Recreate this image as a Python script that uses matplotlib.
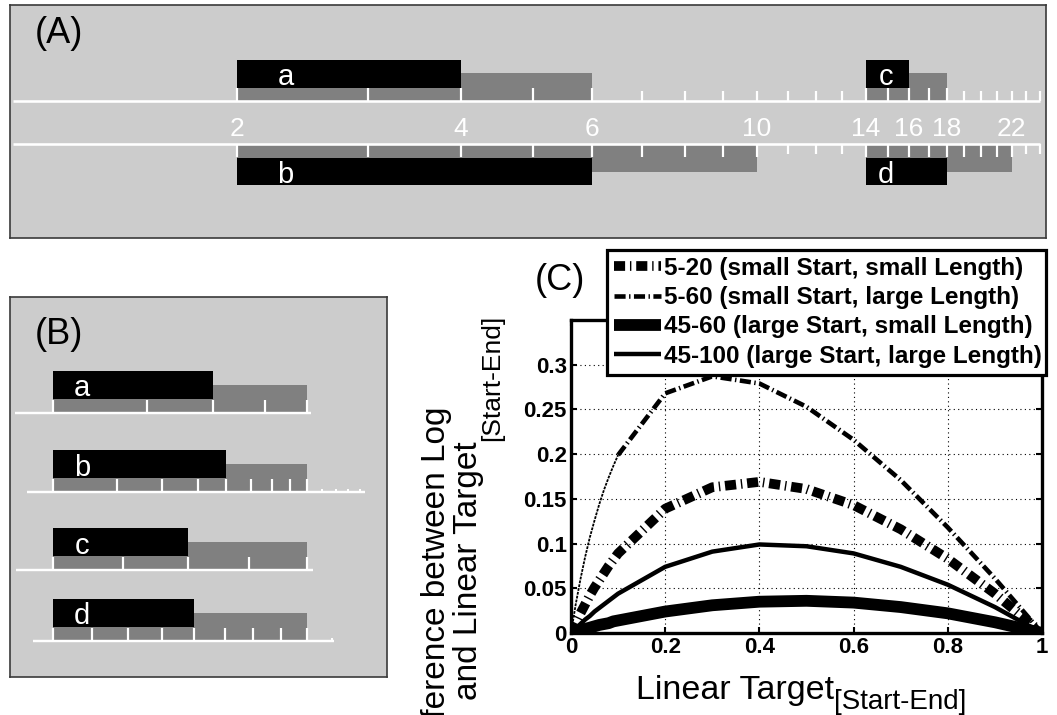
import numpy as np
import matplotlib
matplotlib.use('Agg')
import matplotlib.pyplot as plt
import matplotlib.transforms as mtransforms
from matplotlib.lines import Line2D
from matplotlib.ticker import NullLocator

plt.rcParams['font.family'] = ['Liberation Sans', 'DejaVu Sans']
plt.rcParams['lines.scale_dashes'] = False

# ---------------------------------------------------------------- data
bar_names = ['a', 'b', 'c', 'd']
range_start = [2, 2, 14, 14]
range_target = [4, 6, 16, 18]
range_end = [6, 10, 18, 22]
scale_min, scale_max = 1, 24
scale_labels = [2, 4, 6, 10, 14, 16, 18, 22]

# extent of the individual scale line of each row in panel B
row_line_lo = [1.7, 1.7, 13.5, 13.5]
row_line_hi = [6.1, 14.4, 18.1, 23.1]

# panel C: difference between log and linear target positions
lin_target = [0, 0.01, 0.02, 0.03, 0.04, 0.05, 0.06, 0.07, 0.08, 0.09,
              0.1, 0.2, 0.3, 0.4, 0.5, 0.6, 0.7, 0.8, 0.9, 1.0]
diff_5_20 = [0, 0.011, 0.022, 0.032, 0.042, 0.051, 0.059, 0.067, 0.075, 0.082,
             0.089, 0.139, 0.163, 0.169, 0.161, 0.143, 0.116, 0.083, 0.044, 0]
diff_5_60 = [0, 0.032, 0.060, 0.085, 0.107, 0.126, 0.144, 0.160, 0.174, 0.187,
             0.199, 0.268, 0.287, 0.279, 0.253, 0.216, 0.171, 0.118, 0.061, 0]
diff_45_60 = [0, 0.0015, 0.003, 0.0045, 0.006, 0.0075, 0.009, 0.010, 0.011, 0.013,
              0.014, 0.024, 0.031, 0.035, 0.036, 0.034, 0.029, 0.022, 0.012, 0]
diff_45_100 = [0, 0.005, 0.010, 0.015, 0.019, 0.024, 0.028, 0.032, 0.036, 0.040,
               0.044, 0.074, 0.091, 0.099, 0.097, 0.089, 0.074, 0.054, 0.029, 0]
series_labels = ['5-20 (small Start, small Length)',
                 '5-60 (small Start, large Length)',
                 '45-60 (large Start, small Length)',
                 '45-100 (large Start, large Length)']
x_ticks = [0, 0.2, 0.4, 0.6, 0.8, 1.0]
x_tick_labels = ['0', '0.2', '0.4', '0.6', '0.8', '1']
y_ticks = [0, 0.05, 0.1, 0.15, 0.2, 0.25, 0.3]
y_tick_labels = ['0', '0.05', '0.1', '0.15', '0.2', '0.25', '0.3']

# ---------------------------------------------------------------- layout
W, H, DPI = 1057, 715, 100
PANEL_BG = '#cccccc'
GRAY = '#808080'
EDGE = '#3a3a3a'

fig = plt.figure(figsize=(W / DPI, H / DPI), dpi=DPI)
fig.patch.set_facecolor('white')


def rect(l, t, r, b):
    """figure rectangle from pixel edges (top-left origin)"""
    return [l / W, 1 - b / H, (r - l) / W, (b - t) / H]


def px(v):
    """pixels -> points"""
    return v * 72 / DPI


def blank(ax):
    ax.xaxis.set_major_locator(NullLocator())
    ax.xaxis.set_minor_locator(NullLocator())
    ax.yaxis.set_major_locator(NullLocator())
    ax.yaxis.set_minor_locator(NullLocator())


# ================================================================ panel A
A_L, A_T, A_R, A_B = 10, 5, 1046, 238
X_MIN_PX, X_MAX_PX = 12.5, 1040
ax_a = fig.add_axes(rect(A_L, A_T, A_R, A_B))
ax_a.set_facecolor(PANEL_BG)
ax_a.set_xscale('log')
k = np.log(scale_max / scale_min) / (X_MAX_PX - X_MIN_PX)
ax_a.set_xlim(scale_min * np.exp(-(X_MIN_PX - A_L) * k),
              scale_max * np.exp((A_R - X_MAX_PX) * k))
ax_a.set_ylim(A_B, A_T)
blank(ax_a)
for s in ax_a.spines.values():
    s.set_color(EDGE)
    s.set_linewidth(1.2)

# rows a, c above the upper scale line; b, d below the lower one
side_base = [101, 144, 101, 144]
side_dir = [-1, 1, -1, 1]
letter_dx = [49, 49, 20, 20]
for i in range(4):
    base, d = side_base[i], side_dir[i]
    s, t, e = range_start[i], range_target[i], range_end[i]
    ax_a.fill_between([s, e], base, base + d * 28, color=GRAY, lw=0, zorder=1)
    ax_a.fill_between([s, t], base + d * 13.5, base + d * 41, color='black',
                      lw=0, zorder=2)
    tr = mtransforms.offset_copy(ax_a.transData, fig=fig, x=letter_dx[i], y=0,
                                 units='dots')
    y_txt = base - 16 if d < 0 else base + 39
    ax_a.text(s, y_txt, bar_names[i], transform=tr, color='white',
              fontsize=21, ha='center', va='baseline', zorder=4)

ticks = np.arange(2, scale_max + 1)
for base, d, members in [(101, -1, [0, 2]), (144, 1, [1, 3])]:
    ax_a.hlines(base, scale_min, scale_max, color='white', lw=px(2.6), zorder=3)
    for tk in ticks:
        inside = any(range_start[m] <= tk <= range_end[m] for m in members)
        ln = 13 if inside else 10
        ax_a.vlines(tk, base, base + d * ln, color='white', lw=px(2.2), zorder=3)

for v in scale_labels:
    ax_a.text(v, 136, str(v), color='white', fontsize=19, ha='center',
              va='baseline')

fig.text(35 / W, 1 - 43 / H, '(A)', fontsize=26, ha='left', va='baseline')

# ================================================================ panel B
B_L, B_T, B_R, B_B = 10, 297, 387, 677
GX0, GX1 = 53, 307
ax_b = fig.add_axes(rect(B_L, B_T, B_R, B_B))
ax_b.set_facecolor(PANEL_BG)
blank(ax_b)
for s in ax_b.spines.values():
    s.set_color(EDGE)
    s.set_linewidth(1.2)

row_base = [413, 492, 570, 641]
for i in range(4):
    s, t, e = range_start[i], range_target[i], range_end[i]
    ax = fig.add_axes(rect(B_L, B_T, B_R, B_B))
    ax.patch.set_visible(False)
    ax.set_axis_off()
    ax.set_xscale('log')
    kk = np.log(e / s) / (GX1 - GX0)
    ax.set_xlim(s * np.exp(-(GX0 - B_L) * kk), e * np.exp((B_R - GX1) * kk))
    ax.set_ylim(B_B, B_T)
    base = row_base[i]
    ax.fill_between([s, e], base, base - 28, color=GRAY, lw=0, zorder=1)
    ax.fill_between([s, t], base - 14, base - 42, color='black', lw=0, zorder=2)
    ax.hlines(base, row_line_lo[i], row_line_hi[i], color='white',
              lw=px(2.4), zorder=3)
    full = np.arange(s, e + 1)
    ax.vlines(full, base, base - 13.5, color='white', lw=px(2.2), zorder=3)
    extra = np.arange(e + 1, int(np.floor(row_line_hi[i])) + 1)
    if len(extra):
        ax.vlines(extra, base, base - 3.5, color='white', lw=px(2.0), zorder=3)
    tr = mtransforms.offset_copy(ax.transData, fig=fig, x=29, y=0, units='dots')
    ax.text(s, base - 16.5, bar_names[i], transform=tr, color='white',
            fontsize=21, ha='center', va='baseline', zorder=4)

fig.text(35 / W, 1 - 344 / H, '(B)', fontsize=26, ha='left', va='baseline')

# ================================================================ panel C
ax_c = fig.add_axes(rect(571, 320, 1042, 633))
ax_c.set_xlim(0, 1)
ax_c.set_ylim(0, 0.35)
ax_c.set_xticks(x_ticks)
ax_c.set_xticklabels(x_tick_labels)
ax_c.set_yticks(y_ticks)
ax_c.set_yticklabels(y_tick_labels)
ax_c.grid(True, color='black', linestyle=(0, (0.8, 2.4)), linewidth=0.8)
ax_c.tick_params(direction='in', length=4, width=1.5, top=True, right=True,
                 labelsize=16, pad=3)
for lbl in ax_c.get_xticklabels() + ax_c.get_yticklabels():
    lbl.set_fontweight('bold')
for s in ax_c.spines.values():
    s.set_linewidth(2.4)

style_5_20 = dict(color='black', lw=7, ls=(0, (8, 3.5, 1, 3.5)),
                  dash_capstyle='butt')
style_5_60 = dict(color='black', lw=3.3, ls=(0, (8, 2.5, 1, 2.5)),
                  dash_capstyle='butt')
style_45_60 = dict(color='black', lw=8.5, ls='-', solid_capstyle='butt')
style_45_100 = dict(color='black', lw=3.2, ls='-', solid_capstyle='butt')

ax_c.plot(lin_target, diff_45_60, **style_45_60)
ax_c.plot(lin_target, diff_45_100, **style_45_100)
ax_c.plot(lin_target, diff_5_20, **style_5_20)
ax_c.plot(lin_target[10:], diff_5_60[10:], **style_5_60)
ax_c.plot(lin_target[:11], diff_5_60[:11], color='black', lw=1.3,
          ls=(0, (2, 0.8)))

handles = [Line2D([], [], **style_5_20), Line2D([], [], **style_5_60),
           Line2D([], [], **style_45_60), Line2D([], [], **style_45_100)]
leg = ax_c.legend(handles, series_labels, loc='upper left',
                  bbox_to_anchor=(607 / W, 1 - 374 / H, (1046 - 607) / W,
                                  (374 - 250) / H),
                  bbox_transform=fig.transFigure, mode='expand',
                  borderaxespad=0, frameon=True, fancybox=False,
                  edgecolor='black', framealpha=1,
                  prop={'weight': 'bold', 'size': 17.5},
                  handlelength=1.95, handletextpad=0.1, borderpad=0.28,
                  labelspacing=0.26)
leg.get_frame().set_linewidth(2.3)

fig.text(535 / W, 1 - 290 / H, '(C)', fontsize=26, ha='left', va='baseline')

# axis labels with subscripts
fig.canvas.draw()
renderer = fig.canvas.get_renderer()

xl_main = fig.text(0, 1 - 699 / H, 'Linear Target', fontsize=24.5,
                   ha='left', va='baseline')
xl_sub = fig.text(0, 1 - 709 / H, '[Start-End]', fontsize=20,
                  ha='left', va='baseline')
w_main = xl_main.get_window_extent(renderer).width
w_sub = xl_sub.get_window_extent(renderer).width
x0 = 801 - (w_main + w_sub) / 2
xl_main.set_x(x0 / W)
xl_sub.set_x((x0 + w_main) / W)

# two-line rotated y label; the first line runs past the bottom edge
fig.text(436 / W, 1 - 407 / H, 'Difference between Log', fontsize=24,
         rotation=90, ha='center', va='top')
yl_main = fig.text(469 / W, 1 - 700 / H, 'and Linear Target', fontsize=24,
                   rotation=90, ha='center', va='bottom')
yl_sub = fig.text(492 / W, 0, '[Start-End]', fontsize=19,
                  rotation=90, ha='center', va='bottom')
h_main = yl_main.get_window_extent(renderer).height
yl_sub.set_y(1 - (700 - h_main) / H)

fig.savefig('out.png', dpi=DPI, facecolor='white')
